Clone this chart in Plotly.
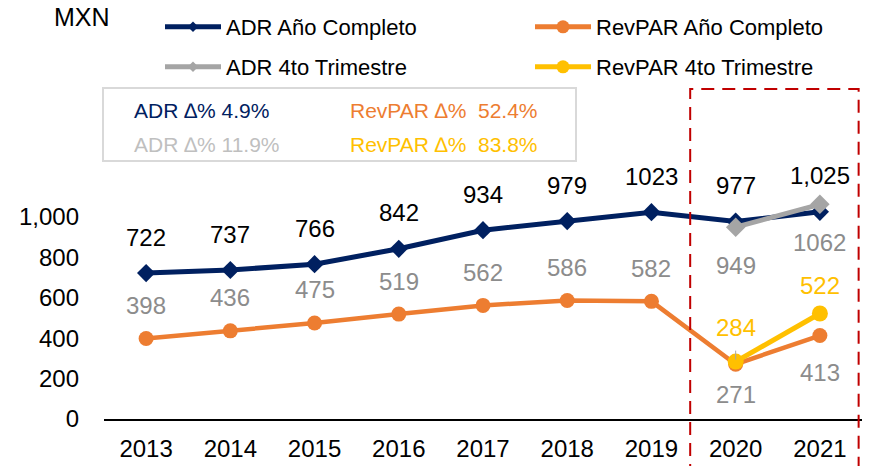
import plotly.graph_objects as go

# ---------------- data ----------------
years = [2013, 2014, 2015, 2016, 2017, 2018, 2019, 2020, 2021]
adr_full = [722, 737, 766, 842, 934, 979, 1023, 977, 1025]
adr_full_labels = ["722", "737", "766", "842", "934", "979", "1023", "977", "1,025"]
revpar_full = [398, 436, 475, 519, 562, 586, 582, 271, 413]
q4_years = [2020, 2021]
adr_q4 = [949, 1062]
revpar_q4 = [284, 522]
y_ticks = [0, 200, 400, 600, 800, 1000]
box_texts = [["ADR ∆% 4.9%", "RevPAR ∆%  52.4%"], ["ADR ∆% 11.9%", "RevPAR ∆%  83.8%"]]
series_names = ["ADR Año Completo", "RevPAR Año Completo", "ADR 4to Trimestre", "RevPAR 4to Trimestre"]

# ---------------- style ----------------
FONT = "Liberation Sans, Arial, sans-serif"
NAVY = "#002060"
ORANGE = "#ED7D31"
GRAY = "#A5A5A5"
YELLOW = "#FFC000"
LABEL_GRAY = "#8C8C8C"
RED = "#C00000"

PAGE_OFF = 0  # body margin removed via post_script
W, H = 872, 466
ML, MR, MT, MB = 104, 10, 136, 47
PW = W - ML - MR
PH = H - MT - MB


def px_x(p):
    return (p - PAGE_OFF - ML) / PW


def px_y(p):
    return (H - MB - (p - PAGE_OFF)) / PH


fig = go.Figure()
fig.add_trace(go.Scatter(x=years, y=adr_full, name=series_names[0], mode="lines+markers",
                         line=dict(color=NAVY, width=5),
                         marker=dict(symbol="diamond", size=14, color=NAVY),
                         showlegend=False))
fig.add_trace(go.Scatter(x=years, y=revpar_full, name=series_names[1], mode="lines+markers",
                         line=dict(color=ORANGE, width=4.5),
                         marker=dict(symbol="circle", size=15, color=ORANGE),
                         showlegend=False))
fig.add_trace(go.Scatter(x=q4_years, y=adr_q4, name=series_names[2], mode="lines+markers",
                         line=dict(color=GRAY, width=5),
                         marker=dict(symbol="diamond", size=15, color=GRAY),
                         showlegend=False))
fig.add_trace(go.Scatter(x=q4_years, y=revpar_q4, name=series_names[3], mode="lines+markers",
                         line=dict(color=YELLOW, width=5),
                         marker=dict(symbol="circle", size=16, color=YELLOW),
                         showlegend=False))

# legend-only entries (smaller symbols, as in the reference legend)
leg_styles = [(NAVY, "diamond", 8), (ORANGE, "circle", 13), (GRAY, "diamond", 8), (YELLOW, "circle", 13)]
for i, (name, (col, sym, sz)) in enumerate(zip(series_names, leg_styles)):
    fig.add_trace(go.Scatter(x=[None], y=[None], name=name, mode="lines+markers",
                             line=dict(color=col, width=5),
                             marker=dict(symbol=sym, size=sz, color=col),
                             legend="legend" if i == 0 else f"legend{i + 1}",
                             hoverinfo="skip"))

ann = []
lab_font = dict(family=FONT, size=24)
for x, v, t in zip(years, adr_full, adr_full_labels):
    ann.append(dict(x=x, y=v, text=t, showarrow=False, yshift=36,
                    font=dict(lab_font, color="#000000")))
rev_shift = {2020: -30, 2021: -37}
for x, v in zip(years, revpar_full):
    ann.append(dict(x=x, y=v, text=str(v), showarrow=False, yshift=rev_shift.get(x, 33),
                    font=dict(lab_font, color=LABEL_GRAY)))
for x, v in zip(q4_years, adr_q4):
    ann.append(dict(x=x, y=v, text=str(v), showarrow=False, yshift=-38,
                    font=dict(lab_font, color=LABEL_GRAY)))
for i, (x, v) in enumerate(zip(q4_years, revpar_q4)):
    if i == 0:
        ann.append(dict(x=x, y=v, text=str(v), showarrow=True, ax=0, ay=-34,
                        arrowhead=0, arrowwidth=1, arrowcolor="#A6A6A6",
                        startstandoff=8, standoff=2,
                        font=dict(lab_font, color=YELLOW)))
    else:
        ann.append(dict(x=x, y=v, text=str(v), showarrow=False, yshift=28,
                        font=dict(lab_font, color=YELLOW)))

# MXN unit label
ann.append(dict(xref="paper", yref="paper", x=px_x(52), y=px_y(17), text="MXN",
                showarrow=False, xanchor="left", yanchor="middle",
                font=dict(family=FONT, size=25, color="#000000")))

# info box texts
box_colors = [[NAVY, ORANGE], ["#BFBFBF", YELLOW]]
box_x = [132, 348]
box_y = [110, 144]
for r in range(2):
    for c in range(2):
        ann.append(dict(xref="paper", yref="paper", x=px_x(box_x[c]), y=px_y(box_y[r]),
                        text=box_texts[r][c], showarrow=False, xanchor="left",
                        yanchor="middle",
                        font=dict(family=FONT, size=21, color=box_colors[r][c])))

shapes = [
    dict(type="rect", xref="paper", yref="paper", x0=px_x(103), x1=px_x(576),
         y0=px_y(161), y1=px_y(88), line=dict(color="#D9D9D9", width=2),
         fillcolor="rgba(0,0,0,0)"),
    dict(type="rect", xref="x", yref="paper", x0=2019.46, x1=2021.46,
         y0=-0.4, y1=px_y(89), line=dict(color=RED, width=2, dash="13px,8px"),
         fillcolor="rgba(0,0,0,0)"),
]

leg_common = dict(orientation="h", xanchor="left", yanchor="middle",
                  bgcolor="rgba(0,0,0,0)", itemwidth=56,
                  font=dict(family=FONT, size=22, color="#000000"))
legend_pos = [(160, 27), (530, 27), (160, 67), (530, 67)]

layout_legends = {}
for i, (lx, ly) in enumerate(legend_pos):
    key = "legend" if i == 0 else f"legend{i + 1}"
    layout_legends[key] = dict(leg_common, x=px_x(lx), y=px_y(ly))

fig.update_layout(
    width=W, height=H,
    margin=dict(l=ML, r=MR, t=MT, b=MB, autoexpand=False),
    paper_bgcolor="white", plot_bgcolor="white",
    showlegend=True,
    hovermode=False,
    annotations=ann,
    shapes=shapes,
    font=dict(family=FONT, size=24, color="#000000"),
    xaxis=dict(range=[2012.5, 2021.5], tickvals=years, ticktext=[str(y) for y in years],
               showgrid=False, zeroline=False, showline=True, linecolor="#000000",
               linewidth=1.5, ticks="", ticklabelstandoff=7,
               tickfont=dict(family=FONT, size=24, color="#000000")),
    yaxis=dict(range=[0, 1400], tickvals=y_ticks, tickformat=",", showgrid=False,
               zeroline=False, showline=False, ticks="", ticklabelstandoff=24,
               tickfont=dict(family=FONT, size=24, color="#000000")),
    **layout_legends,
)

fig.write_html("out.html",
               config={"displayModeBar": False},
               post_script="document.body.style.margin='0px';document.body.style.overflow='hidden';")
